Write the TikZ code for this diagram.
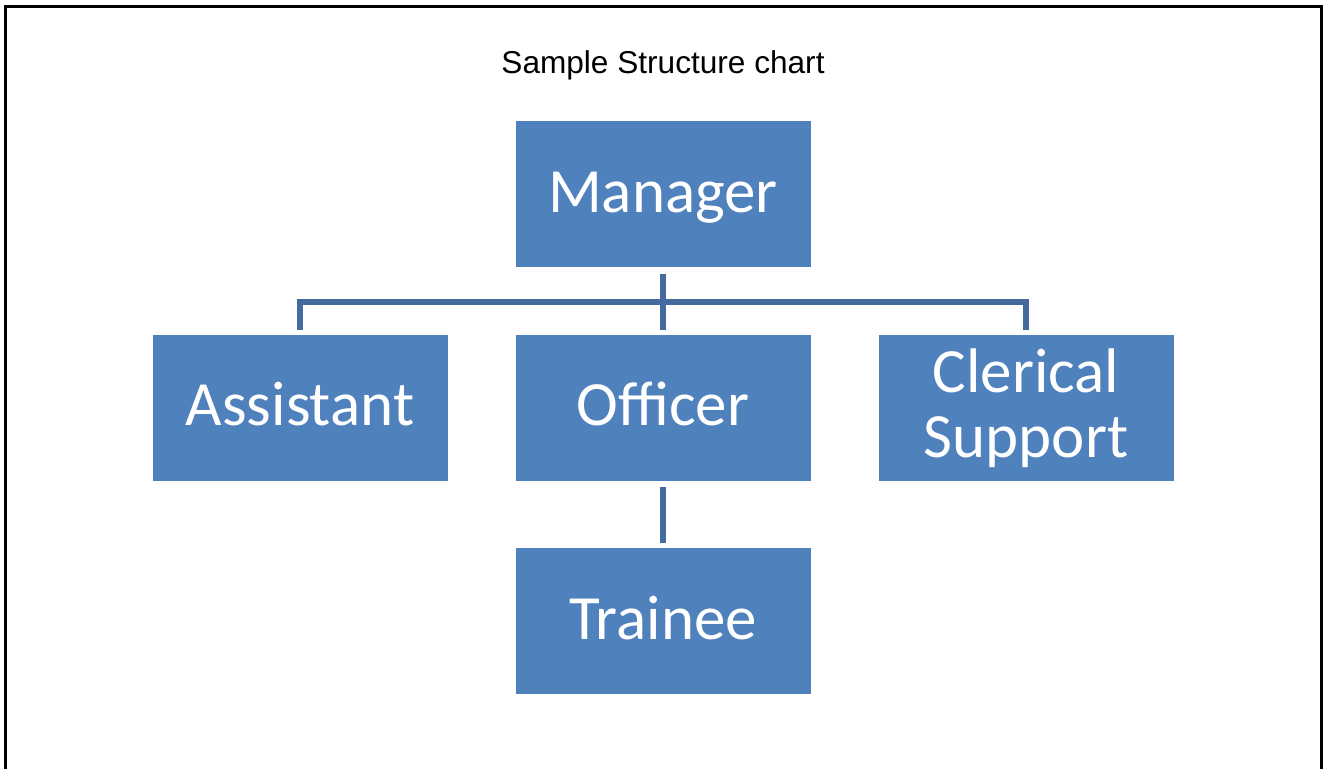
\documentclass[tikz,border=0pt]{standalone}
\usepackage{fontspec}
\setmainfont{Carlito}
\newfontfamily\titlefont{Liberation Sans}

\definecolor{postblue}{HTML}{4F81BD}
\definecolor{lineblue}{RGB}{68,106,158}

\tikzset{
    post/.style={fill=postblue, text=white, inner sep=0pt,
        minimum width=147.5pt, minimum height=73pt,
        font=\fontsize{31.5}{32.5}\selectfont},
    onelinepost/.style={post, text height=21pt, text depth=3pt},
    twolinepost/.style={post, align=center}
}

\begin{document}
\begin{tikzpicture}[x=0.5pt, y=0.5pt,
    level distance=106.75pt,
    level 1/.style={sibling distance=181.5pt},
    edge from parent/.style={draw=lineblue, line width=3pt,
        shorten <=3pt, shorten >=2.5pt},
    edge from parent path={(\tikzparentnode.south) -- ++(0,-17.25pt)
        -| (\tikzchildnode.north)}]
    \useasboundingbox (0,0) rectangle (1323,-769);
    \draw[line width=1.5pt] (5,-790) -- (5,-7) -- (1321,-7) -- (1321,-790);
    \node[font=\titlefont\fontsize{15.8}{18}\selectfont] (title) at (663,-65)
        {Sample Structure chart};
    \node[onelinepost] (manager) at (663,-194.5) {Manager}
        child {node[onelinepost] (assistant) {Assistant}}
        child {node[onelinepost] (officer) {Officer}
            child {node[onelinepost] (trainee) {Trainee}}}
        child {node[twolinepost] (clerical) {Clerical\\Support}
        };
\end{tikzpicture}
\end{document}
